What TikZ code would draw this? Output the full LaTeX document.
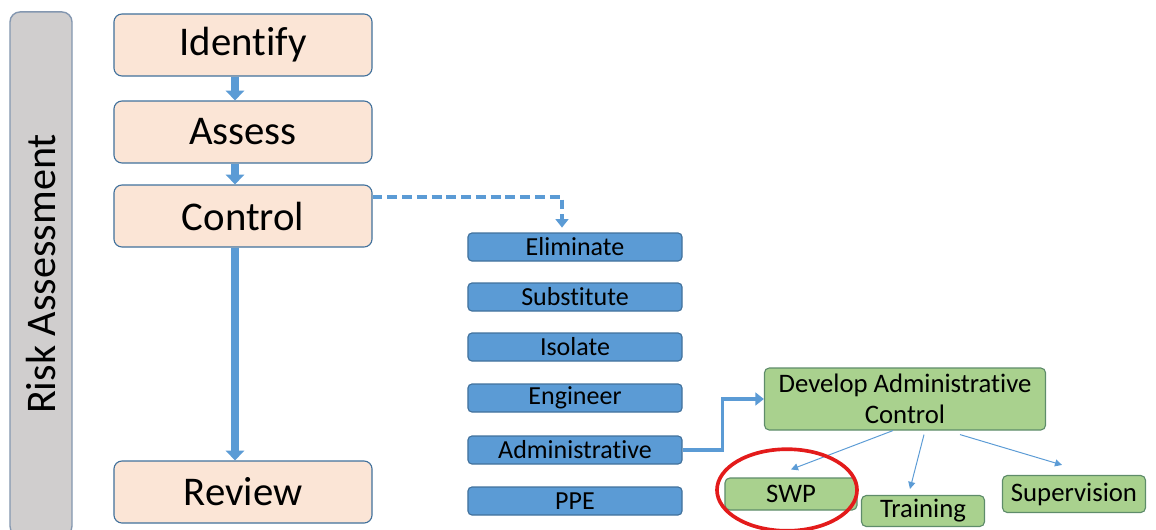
\documentclass[tikz,border=0pt]{standalone}
\usepackage{fontspec}
\setmainfont{Carlito}[Ligatures=NoCommon]
\usetikzlibrary{arrows.meta}

\definecolor{peach}{HTML}{FBE5D6}
\definecolor{frame}{HTML}{41719C}
\definecolor{barfill}{HTML}{D0CECE}
\definecolor{barframe}{HTML}{8497B0}
\definecolor{ctrlblue}{HTML}{5B9BD5}
\definecolor{admgreen}{HTML}{A9D18E}
\definecolor{admframe}{HTML}{5E8C6A}
\definecolor{ringred}{HTML}{E31B1B}

\tikzset{
  sidebar/.style={draw=barframe, fill=barfill, line width=1pt, rounded corners=0.25cm,
    minimum width=13.1cm, minimum height=1.55cm, rotate=90, font=\fontsize{30}{34}\selectfont},
  stepbox/.style={draw=frame, fill=peach, line width=0.8pt, rounded corners=0.2cm,
    minimum width=6.45cm, minimum height=1.55cm, font=\fontsize{29}{33}\selectfont},
  ctrlbox/.style={draw=frame, fill=ctrlblue, line width=0.8pt, rounded corners=0.1cm,
    minimum width=5.35cm, minimum height=0.7cm, inner sep=0pt, font=\fontsize{18.5}{21}\selectfont},
  admbox/.style={draw=admframe, fill=admgreen, line width=0.8pt, rounded corners=0.12cm,
    inner sep=0pt, align=center, font=\fontsize{19}{22}\selectfont},
  flow/.style={draw=ctrlblue, line width=5.2pt, -{Triangle[width=13pt,length=7pt]}},
  link/.style={draw=ctrlblue, line width=2.7pt, -{Triangle[width=9pt,length=6pt]}},
  thin/.style={draw=ctrlblue, line width=0.7pt, -{Triangle[width=5pt,length=5pt]}}
}

\begin{document}
\begin{tikzpicture}[x=0.025cm, y=-0.025cm]
\useasboundingbox (0,0) rectangle (1156,529);

% side bar
\node[sidebar] (side) at (41,274) {Risk Assessment};

% main steps
\node[stepbox] (identify) at (243,45) {Identify};
\node[stepbox] (assess) at (243,132) {Assess};
\node[stepbox] (control) at (243,216) {Control};
\node[stepbox] (review) at (243,492) {Review};

% hierarchy of controls
\node[ctrlbox] (elim) at (575,247) {Eliminate};
\node[ctrlbox] (subst) at (575,297) {Substitute};
\node[ctrlbox] (isol) at (575,347) {Isolate};
\node[ctrlbox] (eng) at (575,398) {Engineer};
\node[ctrlbox] (admin) at (575,450) {Administrative};
\node[ctrlbox] (ppe) at (575,501) {PPE};

% administrative controls
\node[admbox, minimum width=7.025cm, minimum height=1.55cm] (develop) at (905,399) {Develop Administrative\\Control};
\node[admbox, minimum width=3.3cm, minimum height=0.8cm] (swp) at (791,494) {SWP};
\node[admbox, minimum width=3.075cm, minimum height=0.775cm] (training) at (923,511) {Training};
\node[admbox, minimum width=3.575cm, minimum height=0.925cm] (superv) at (1074,494) {Supervision};

% arrows
\draw[flow] ([xshift=-0.2cm]identify.south) -- ([xshift=-0.2cm]assess.north);
\draw[flow] ([xshift=-0.2cm]assess.south) -- ([xshift=-0.2cm]control.north);
\draw[flow] ([xshift=-0.2cm]control.south) -- ([xshift=-0.2cm]review.north);
\draw[link, dash pattern=on 7pt off 3.5pt] ([yshift=0.475cm]control.east) -| ([xshift=-0.325cm,yshift=0.12cm]elim.north);
\draw[link] (admin.east) -- ++(40,0) |- (develop.west);
\draw[thin] ([xshift=-0.3cm]develop.south) -- ([yshift=0.2cm]swp.north);
\draw[thin] ([xshift=0.475cm,yshift=-0.1cm]develop.south) -- ([xshift=-0.325cm,yshift=0.15cm]training.north);
\draw[thin] ([xshift=1.375cm,yshift=-0.1cm]develop.south) -- ([xshift=-0.3cm,yshift=0.25cm]superv.north);

% ring round SWP
\draw[ringred, line width=2.6pt] (787,490) ellipse [x radius=1.75cm, y radius=1.02cm];
\end{tikzpicture}
\end{document}
